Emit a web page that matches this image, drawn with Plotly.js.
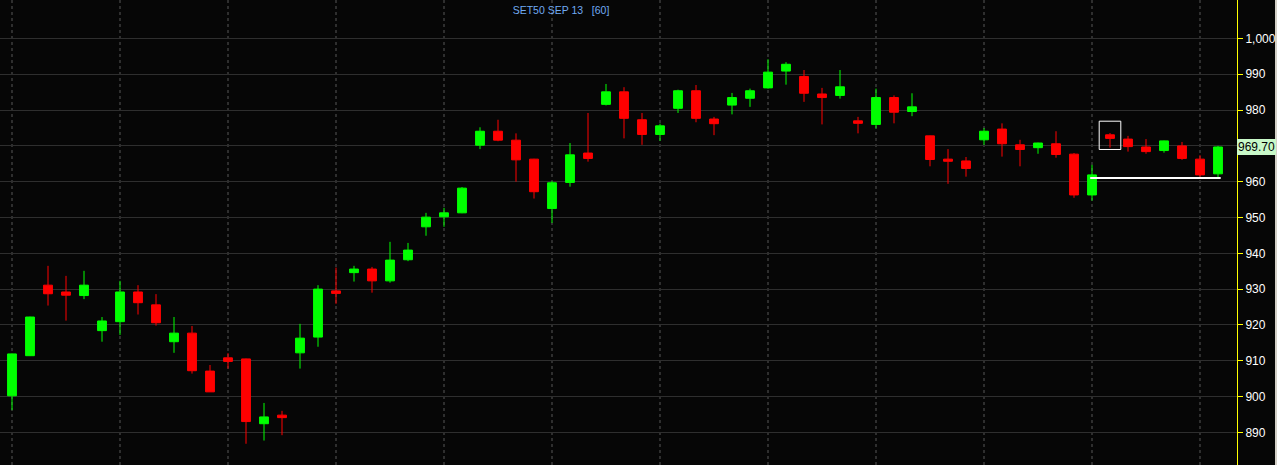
<!DOCTYPE html>
<html>
<head>
<meta charset="utf-8">
<script src="https://cdn.plot.ly/plotly-3.0.1.min.js"></script>
<style>
  html, body { margin: 0; padding: 0; background: #060606; }
  #chart { width: 1277px; height: 465px; }
</style>
</head>
<body>
<div id="chart"></div>
<script>
// ---- Data (hourly bars) ----
const barIndex = Array.from({length: 68}, (_, i) => i);
const opens  = [900.2, 911.4, 931.1, 929.2, 928.2, 918.4, 920.9, 929.2, 925.6, 915.3,
                917.7, 907.1, 910.8, 910.5, 892.4, 894.8, 912.2, 916.6, 929.5, 934.6,
                935.6, 932.3, 938.2, 947.4, 950.2, 951.3, 970.2, 974.1, 971.6, 966.3,
                952.5, 959.8, 968.0, 981.6, 985.1, 977.3, 973.2, 980.5, 985.4, 977.5,
                981.4, 983.3, 986.2, 990.9, 989.4, 984.5, 984.1, 977.0, 976.0, 983.5,
                979.6, 972.8, 966.3, 965.8, 971.7, 974.7, 970.3, 969.5, 970.6, 967.7,
                956.3, 973.1, 971.9, 969.7, 968.7, 970.0, 966.3, 962.2];
const highs  = [912.0, 922.3, 936.5, 933.7, 935.1, 922.2, 932.3, 931.1, 928.6, 922.2,
                919.7, 908.8, 912.1, 910.6, 898.2, 896.0, 920.3, 931.1, 936.0, 936.5,
                936.2, 943.2, 942.9, 951.3, 952.7, 958.5, 975.2, 977.3, 973.5, 966.4,
                960.2, 970.8, 979.2, 987.3, 986.4, 979.2, 976.2, 985.7, 987.0, 978.1,
                984.8, 986.0, 994.2, 993.4, 991.2, 986.2, 991.2, 978.1, 986.0, 984.1,
                984.7, 972.9, 969.1, 966.9, 975.0, 976.3, 971.7, 970.9, 974.1, 968.0,
                964.7, 973.6, 972.8, 971.9, 971.5, 971.1, 967.4, 970.0];
const lows   = [896.2, 911.3, 925.4, 921.2, 927.2, 915.3, 917.2, 922.9, 919.8, 912.2,
                906.4, 901.3, 907.8, 886.8, 887.7, 889.2, 907.8, 913.9, 925.9, 932.1,
                929.0, 931.8, 937.8, 944.9, 947.4, 951.2, 969.1, 971.3, 960.0, 955.3,
                948.5, 958.6, 965.6, 981.3, 972.1, 970.3, 971.4, 979.2, 976.6, 973.0,
                978.8, 980.9, 986.0, 987.1, 982.3, 976.0, 983.2, 973.5, 974.9, 976.3,
                978.3, 964.3, 959.4, 961.4, 970.3, 967.0, 964.3, 967.8, 966.7, 955.5,
                954.7, 969.5, 968.4, 967.8, 968.1, 966.1, 961.4, 961.3];
const closes = [911.9, 922.2, 928.7, 928.3, 931.1, 921.1, 929.2, 926.2, 920.6, 917.7,
                907.2, 901.3, 909.8, 893.0, 894.3, 894.1, 916.3, 930.0, 928.8, 935.6,
                932.3, 938.1, 940.9, 950.1, 951.3, 958.2, 974.1, 971.6, 966.1, 957.2,
                959.7, 967.5, 966.5, 985.1, 977.7, 973.2, 975.6, 985.4, 977.7, 976.2,
                983.5, 985.4, 990.6, 992.8, 984.7, 983.5, 986.5, 976.3, 983.5, 979.4,
                980.9, 966.2, 965.7, 963.7, 974.1, 970.6, 969.0, 970.8, 967.6, 956.3,
                961.9, 972.1, 969.8, 968.4, 971.4, 966.5, 961.9, 969.7];
const yTickValues = [890, 900, 910, 920, 930, 940, 950, 960, 970, 980, 990, 1000];
const chartTitle = 'SET50 SEP 13\u00a0\u00a0\u00a0[60]';
const selectedBar = 61;           // bar highlighted by the white box
const supportLevel = 961.0;       // white horizontal line
const supportFrom = 60, supportTo = 67;

const lastClose = closes[closes.length - 1];

const trace = {
  type: 'candlestick',
  x: barIndex, open: opens, high: highs, low: lows, close: closes,
  increasing: {line: {color: '#00ff00', width: 1}, fillcolor: '#00ff00'},
  decreasing: {line: {color: '#ff0000', width: 1}, fillcolor: '#ff0000'},
  whiskerwidth: 0,
  hoverinfo: 'none'
};

const shapes = [
  { type: 'rect', xref: 'x', yref: 'y',
    x0: selectedBar - 0.6, x1: selectedBar + 0.6,
    y0: lows[selectedBar] - 0.5, y1: highs[selectedBar] + 3.3,
    line: {color: '#ffffff', width: 1}, fillcolor: 'rgba(0,0,0,0)' },
  { type: 'line', xref: 'x', yref: 'y',
    x0: supportFrom - 0.1, x1: supportTo + 0.15, y0: supportLevel, y1: supportLevel,
    line: {color: '#ffffff', width: 2} },
  { type: 'rect', xref: 'paper', yref: 'paper',
    x0: 1275 / 1237, x1: 1290 / 1237, y0: 0, y1: 1,
    line: {width: 0}, fillcolor: '#d4d0c8' }
];

const layout = {
  width: 1277, height: 465,
  margin: {l: 0, r: 40, t: 0, b: 0, pad: 0},
  paper_bgcolor: '#060606', plot_bgcolor: '#060606',
  showlegend: false,
  boxgap: 0.3,
  font: {family: 'Liberation Sans, Arial, sans-serif', color: '#ffffff', size: 12},
  title: {
    text: chartTitle, x: 561 / 1277, xanchor: 'center', xref: 'container',
    y: 1 - 10 / 465, yanchor: 'middle', yref: 'container',
    font: {family: 'Liberation Sans, Arial, sans-serif', size: 10.5, color: '#70aaf2'}
  },
  xaxis: {
    range: [-12 / 18, (1237 - 12) / 18],
    rangeslider: {visible: false},
    showticklabels: false, ticks: '',
    tick0: 0, dtick: 6, tickmode: 'linear',
    showgrid: true, gridcolor: '#2e2e2e', gridwidth: 2, griddash: 'dot',
    zeroline: false, showline: false, fixedrange: true
  },
  yaxis: {
    side: 'right',
    range: [880.87, 1010.75],
    tickmode: 'array', tickvals: yTickValues,
    ticktext: yTickValues.map(v => v.toLocaleString('en-US')),
    ticks: 'outside', ticklen: 5, tickcolor: '#ffff00', tickwidth: 1,
    showline: true, linecolor: '#ffff00', linewidth: 1,
    showgrid: true, gridcolor: '#2e2e2e', gridwidth: 1,
    zeroline: false, fixedrange: true,
    tickfont: {family: 'Liberation Sans, Arial, sans-serif', size: 12, color: '#ffffff'}
  },
  shapes: shapes,
  annotations: [
    { xref: 'paper', yref: 'y', x: 1, y: lastClose, xanchor: 'left', yanchor: 'middle',
      text: lastClose.toFixed(2), showarrow: false,
      bgcolor: '#c8f8c8', borderpad: 1, borderwidth: 0,
      font: {family: 'Liberation Sans, Arial, sans-serif', size: 12, color: '#000000'} }
  ]
};

Plotly.newPlot('chart', [trace], layout, {staticPlot: true, displayModeBar: false});
</script>
</body>
</html>
